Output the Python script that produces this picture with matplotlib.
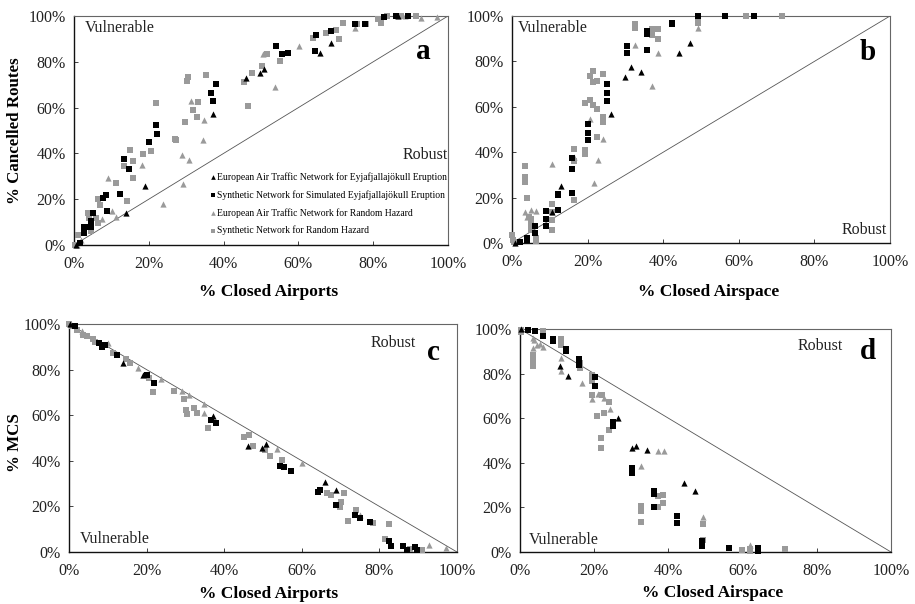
import matplotlib
matplotlib.use("Agg")
import matplotlib.pyplot as plt
from matplotlib.ticker import FuncFormatter

plt.rcParams['font.family'] = ['Liberation Serif', 'DejaVu Serif']

# ---------------- Data (percent) ----------------
# Panel a: % closed airports vs % cancelled routes
a_eu_eyja_x = [0.5, 14.0, 18.9, 37.2, 46.1, 49.7, 50.8, 65.9, 68.7, 86.5]
a_eu_eyja_y = [0.0, 13.8, 25.7, 57.1, 73.0, 75.1, 77.0, 84.0, 88.2, 100.0]
a_syn_eyja_x = [1.6, 2.8, 2.8, 3.6, 4.5, 4.5, 5.0, 7.7, 8.5, 8.9, 12.3, 13.5, 14.8, 20.0, 22.0, 22.2,
                36.6, 37.2, 37.9, 54.1, 55.5, 57.1, 64.4, 64.6, 68.8, 75.1, 77.7, 82.9, 86.2, 89.3]
a_syn_eyja_y = [1.0, 5.1, 8.0, 7.7, 8.0, 10.6, 13.8, 20.6, 21.8, 15.0, 22.4, 37.6, 33.0, 45.1, 52.5, 48.3,
                66.3, 62.9, 70.3, 86.8, 83.3, 83.9, 84.7, 91.6, 93.5, 96.4, 96.7, 99.6, 100.0, 100.0]
a_eu_rand_x = [0.7, 2.0, 7.6, 9.2, 10.1, 11.3, 18.1, 23.7, 28.8, 29.2, 30.8, 31.4, 34.7, 34.5,
               53.7, 50.6, 60.1, 75.1, 88.4, 92.9, 97.1]
a_eu_rand_y = [0.0, 2.0, 11.3, 29.4, 15.0, 12.2, 35.0, 17.7, 39.2, 26.5, 36.9, 62.8, 54.5, 45.9,
               68.8, 83.6, 86.8, 94.9, 99.9, 99.3, 99.4]
a_syn_rand_x = [0.3, 1.2, 3.8, 4.1, 4.5, 5.2, 5.9, 6.3, 6.5, 6.9, 11.1, 13.5, 14.1, 15.0, 15.8, 15.9,
                18.5, 20.7, 21.8, 27.0, 27.4, 29.8, 30.3, 30.4, 31.8, 32.8, 33.1, 35.4, 45.4, 46.4,
                47.5, 50.4, 51.6, 55.0, 63.9, 67.3, 70.1, 70.9, 71.8, 75.8, 78.2, 81.3, 82.2, 83.7,
                87.5, 91.5]
a_syn_rand_y = [0.0, 4.4, 13.8, 11.6, 6.3, 13.8, 11.6, 9.4, 20.3, 17.3, 27.2, 34.4, 19.0, 41.4, 36.5, 29.1,
                39.8, 41.1, 61.9, 46.5, 45.8, 53.5, 71.5, 73.3, 58.9, 55.7, 62.6, 74.1, 71.1, 60.9,
                75.3, 78.2, 83.3, 80.4, 90.6, 92.6, 94.0, 89.8, 96.9, 96.4, 96.7, 98.8, 96.9, 99.9,
                99.9, 99.9]

# Panel b: % closed airspace vs % cancelled routes
b_eu_eyja_x = [0.7, 10.7, 12.9, 26.3, 29.9, 31.5, 34.2, 44.1, 47.1]
b_eu_eyja_y = [0.0, 13.7, 25.3, 57.0, 73.0, 77.4, 75.2, 83.8, 88.3]
b_syn_eyja_x = [2.0, 4.1, 4.1, 6.0, 6.1, 8.9, 8.9, 8.9, 12.2, 12.2, 12.2, 15.9, 15.9, 15.9, 20.2, 20.2,
                20.2, 25.0, 25.0, 25.0, 30.3, 30.3, 35.8, 35.8, 35.8, 42.2, 42.2, 49.1, 56.3, 64.1]
b_syn_eyja_y = [0.6, 1.2, 2.2, 4.6, 7.5, 7.5, 10.6, 14.0, 14.7, 21.0, 21.7, 22.2, 32.6, 37.6, 45.2, 48.5,
                52.3, 62.6, 66.2, 70.2, 83.7, 86.8, 84.9, 92.2, 93.4, 96.3, 97.1, 99.9, 100.0, 100.0]
b_eu_rand_x = [0.4, 3.5, 4.1, 5.0, 6.3, 10.7, 16.4, 20.6, 21.6, 22.7, 24.0, 32.5, 37.1, 38.7, 49.3]
b_eu_rand_y = [1.9, 13.7, 11.5, 14.7, 14.1, 35.0, 37.9, 54.8, 26.4, 36.7, 46.0, 87.1, 69.0, 83.7, 94.9]
b_syn_rand_x = [0.0, 0.3, 0.5, 3.4, 3.4, 3.4, 4.1, 4.4, 5.0, 5.0, 5.0, 6.3, 6.3, 10.6, 10.6, 10.6, 10.6,
                16.4, 16.4, 16.4, 19.2, 19.2, 19.2, 20.6, 20.6, 21.4, 21.4, 22.6, 21.4, 22.6, 22.6,
                24.0, 24.0, 24.0, 32.5, 32.5, 37.1, 37.1, 38.7, 38.7, 49.1, 49.1, 61.8, 71.5]
b_syn_rand_y = [3.4, 1.5, 0.4, 33.9, 29.1, 26.9, 20.0, 11.5, 10.4, 8.5, 5.6, 2.3, 0.9, 17.0, 13.7, 10.0, 5.9,
                41.6, 36.1, 18.8, 41.1, 39.1, 61.8, 62.8, 73.4, 75.8, 71.0, 71.5, 61.0, 59.2, 46.7,
                74.3, 55.5, 53.5, 96.6, 94.9, 94.4, 91.8, 94.1, 90.0, 98.4, 96.9, 100.0, 100.0]

# Panel c: % closed airports vs % MCS
c_eu_eyja_x = [0.3, 14.0, 19.2, 37.2, 46.2, 49.7, 50.7, 66.0, 68.9]
c_eu_eyja_y = [100.0, 83.1, 77.7, 59.7, 46.5, 45.5, 47.4, 30.8, 27.4]
c_syn_eyja_x = [1.5, 7.7, 8.6, 9.3, 12.3, 20.0, 22.0, 36.6, 37.9, 54.3, 55.5, 57.3, 64.3, 64.6, 68.9,
                73.6, 75.1, 77.6, 82.4, 83.1, 86.2, 87.1, 89.3, 89.7]
c_syn_eyja_y = [99.0, 91.6, 89.7, 90.9, 86.5, 77.7, 74.0, 57.9, 56.5, 37.8, 37.4, 35.5, 26.1, 27.4, 20.5,
                16.4, 15.0, 13.2, 4.7, 2.6, 2.5, 1.0, 2.2, 0.7]
c_eu_rand_x = [0.7, 3.3, 10.1, 17.9, 23.8, 29.0, 30.8, 34.7, 34.8, 53.7, 60.0, 74.9, 89.7, 92.7, 97.2]
c_eu_rand_y = [99.7, 96.8, 91.6, 80.6, 75.8, 70.8, 68.9, 64.8, 61.1, 45.2, 38.9, 16.1, 1.5, 3.2, 1.8]
c_syn_rand_x = [0.0, 0.7, 2.0, 3.7, 4.7, 6.1, 6.7, 11.4, 14.7, 15.7, 20.5, 21.7, 27.1, 29.6, 30.2, 30.3,
                32.1, 33.1, 35.7, 45.1, 46.3, 47.3, 50.6, 51.7, 54.9, 66.6, 67.5, 70.2, 69.9, 71.0,
                71.9, 73.9, 78.3, 81.5, 82.4, 87.8, 90.4, 91.0]
c_syn_rand_y = [100.0, 99.3, 97.5, 95.3, 94.6, 93.4, 91.9, 87.2, 84.6, 82.8, 76.2, 70.1, 70.8, 67.0, 62.3,
                60.6, 63.0, 61.1, 54.5, 50.3, 51.3, 46.5, 44.7, 42.2, 40.3, 25.7, 24.9, 22.0, 19.8,
                25.7, 13.5, 18.3, 12.8, 5.5, 12.2, 1.5, 1.0, 0.7]

# Panel d: % closed airspace vs % MCS
d_eu_eyja_x = [0.4, 10.8, 13.0, 26.3, 30.1, 31.4, 34.1, 44.2, 47.2]
d_eu_eyja_y = [100.0, 83.2, 79.0, 60.0, 46.6, 47.6, 45.8, 30.8, 27.5]
d_syn_eyja_x = [2.2, 4.0, 6.3, 9.0, 9.0, 12.3, 12.3, 15.9, 15.9, 20.2, 20.2, 25.0, 25.0, 30.3, 30.3,
                36.1, 36.1, 36.1, 42.2, 42.2, 49.0, 49.0, 56.3, 64.1, 64.1]
d_syn_eyja_y = [99.7, 99.0, 97.0, 95.7, 94.5, 91.0, 90.0, 86.7, 84.0, 78.3, 74.3, 58.5, 56.6, 37.6, 35.6,
                27.5, 26.0, 20.4, 16.2, 13.2, 4.9, 2.8, 1.6, 1.6, 0.6]
d_eu_rand_x = [3.6, 3.9, 3.6, 4.5, 5.4, 6.3, 11.1, 11.1, 16.6, 19.3, 21.1, 22.6, 24.3, 32.6, 37.3, 38.9,
               49.4, 62.0]
d_eu_rand_y = [96.0, 95.0, 91.5, 93.0, 93.3, 91.8, 87.0, 81.0, 76.0, 68.7, 70.8, 69.0, 64.1, 38.6, 45.1,
               45.5, 15.9, 3.1]
d_syn_rand_x = [0.3, 0.4, 3.6, 3.6, 3.6, 6.3, 6.3, 11.1, 11.1, 16.2, 16.2, 19.3, 19.3, 19.3, 20.7, 21.7,
                21.7, 22.0, 22.6, 24.1, 24.1, 32.6, 32.6, 32.6, 37.1, 37.1, 38.6, 38.6, 49.4, 49.4,
                59.9, 62.0, 62.0, 71.4]
d_syn_rand_y = [99.7, 98.8, 88.5, 85.5, 83.5, 99.0, 97.5, 95.5, 93.0, 84.7, 82.5, 79.5, 76.5, 70.5, 61.1,
                51.3, 46.6, 70.5, 62.3, 67.1, 54.8, 20.7, 18.4, 13.6, 24.9, 20.1, 25.6, 21.9, 12.4,
                5.4, 0.9, 1.2, 0.6, 1.2]

series_labels = ["European Air Traffic Network for Eyjafjallajökull Eruption",
                 "Synthetic Network for Simulated Eyjafjallajökull Eruption",
                 "European Air Traffic Network for Random Hazard",
                 "Synthetic Network for Random Hazard"]
tick_values = [0, 20, 40, 60, 80, 100]

BLACK = "#000000"
GRAY = "#9a9a9a"
styles = [dict(marker="^", color=BLACK, s=20),
          dict(marker="s", color=BLACK, s=15),
          dict(marker="^", color=GRAY, s=20),
          dict(marker="s", color=GRAY, s=15)]

fig = plt.figure(figsize=(9.15, 6.04), dpi=100)
W, H = 915.0, 604.0

def make_ax(l, r, t, b):
    return fig.add_axes([l / W, (H - b) / H, (r - l) / W, (b - t) / H])

ax_a = make_ax(74, 448, 16, 245)
ax_b = make_ax(512, 890, 16, 243)
ax_c = make_ax(69, 457, 324, 552)
ax_d = make_ax(520, 891, 329, 552)

pct = FuncFormatter(lambda v, p: "%d%%" % v)

def draw(ax, data, diag_up, xlabel, xlab_pos, ylabel, ylab_pos, letter, vul_pos, rob_pos, letter_pos):
    order = [3, 2, 1, 0]
    for i in order:
        x, y = data[i]
        st = styles[i]
        ax.scatter(x, y, marker=st["marker"], c=st["color"], s=st["s"], linewidths=0,
                   label=series_labels[i], zorder=3, clip_on=False)
    if diag_up:
        ax.plot([0, 100], [0, 100], color="#555555", lw=0.6, zorder=2)
    else:
        ax.plot([0, 100], [100, 0], color="#555555", lw=0.6, zorder=2)
    ax.set_xlim(0, 100)
    ax.set_ylim(0, 100)
    ax.set_xticks(tick_values)
    ax.set_yticks(tick_values)
    ax.xaxis.set_major_formatter(pct)
    ax.yaxis.set_major_formatter(pct)
    ax.tick_params(direction="in", length=3, width=0.6, labelsize=11.5, colors="#222222",
                   labelcolor="#222222")
    ax.tick_params(axis="x", pad=8)
    ax.tick_params(axis="y", pad=6)
    for s in ["left", "bottom"]:
        ax.spines[s].set_linewidth(1.0)
        ax.spines[s].set_color("#111111")
    for s in ["top", "right"]:
        ax.spines[s].set_linewidth(0.8)
        ax.spines[s].set_color("#666666")
    ax.text(xlab_pos[0], xlab_pos[1], xlabel, transform=ax.transAxes, fontsize=12.5,
            fontweight="bold", ha="center", va="center")
    if ylabel:
        ax.text(ylab_pos[0], ylab_pos[1], ylabel, transform=ax.transAxes, fontsize=12.2,
                fontweight="bold", ha="center", va="center", rotation=90)
    ax.text(vul_pos[0], vul_pos[1], "Vulnerable", transform=ax.transAxes, fontsize=11.5,
            ha="left", va="center", color="#222222")
    ax.text(rob_pos[0], rob_pos[1], "Robust", transform=ax.transAxes, fontsize=11.5,
            ha="right", va="center", color="#222222")
    ax.text(letter_pos[0], letter_pos[1], letter, transform=ax.transAxes, fontsize=21,
            fontweight="bold", ha="center", va="center")

draw(ax_a, [(a_eu_eyja_x, a_eu_eyja_y), (a_syn_eyja_x, a_syn_eyja_y),
            (a_eu_rand_x, a_eu_rand_y), (a_syn_rand_x, a_syn_rand_y)],
     True, "% Closed Airports", (0.521, -0.205), "% Cancelled Routes", (-0.158, 0.498), "a",
     (0.029, 0.948), (1.0, 0.393), (0.933, 0.843))
draw(ax_b, [(b_eu_eyja_x, b_eu_eyja_y), (b_syn_eyja_x, b_syn_eyja_y),
            (b_eu_rand_x, b_eu_rand_y), (b_syn_rand_x, b_syn_rand_y)],
     True, "% Closed Airspace", (0.521, -0.216), None, None, "b",
     (0.016, 0.947), (0.992, 0.057), (0.942, 0.841))
draw(ax_c, [(c_eu_eyja_x, c_eu_eyja_y), (c_syn_eyja_x, c_syn_eyja_y),
            (c_eu_rand_x, c_eu_rand_y), (c_syn_rand_x, c_syn_rand_y)],
     False, "% Closed Airports", (0.515, -0.185), "% MCS", (-0.139, 0.482), "c",
     (0.028, 0.057), (0.894, 0.917), (0.938, 0.873))
draw(ax_d, [(d_eu_eyja_x, d_eu_eyja_y), (d_syn_eyja_x, d_syn_eyja_y),
            (d_eu_rand_x, d_eu_rand_y), (d_syn_rand_x, d_syn_rand_y)],
     False, "% Closed Airspace", (0.520, -0.185), None, None, "d",
     (0.024, 0.054), (0.871, 0.924), (0.938, 0.897))

# legend in panel a
h, l = ax_a.get_legend_handles_labels()
idx = [l.index(s) for s in series_labels]
ax_a.legend([h[i] for i in idx], [l[i] for i in idx], loc="upper left",
            bbox_to_anchor=(0.364, 0.318), frameon=False, fontsize=6.9,
            handlelength=0.5, handletextpad=0.25, labelspacing=0.85, borderpad=0,
            borderaxespad=0, markerscale=0.75)

fig.savefig("out.png", dpi=100)
